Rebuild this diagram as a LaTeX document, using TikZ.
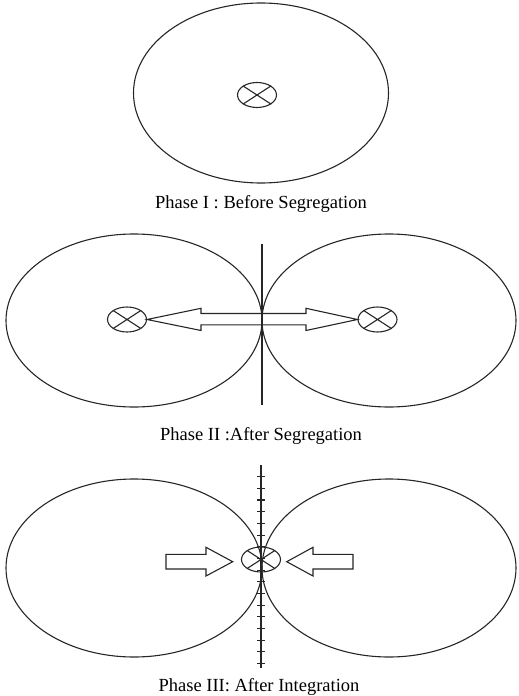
\documentclass[tikz,border=0pt]{standalone}
\usepackage{fontspec}
\setmainfont{Liberation Serif}
\usetikzlibrary{shapes.geometric}
\begin{document}
\begin{tikzpicture}[x=1pt,y=-1pt,
  big/.style={draw=black!85,line width=1.1pt},
  lobe/.style={draw=black!85,line width=1.1pt},
  center/.style={ellipse,draw=black!85,line width=1.1pt,minimum width=39pt,minimum height=25pt,inner sep=0pt},
  crossline/.style={draw=black!85,line width=1.1pt},
  caption/.style={anchor=base,inner sep=0pt,font=\fontsize{18.5}{22}\selectfont},
  axis/.style={draw=black!85,line width=1.4pt},
  fatarrow/.style={draw=black!85,line width=1.1pt,fill=white,line join=miter}]
\useasboundingbox (0,0) rectangle (519,696);
% ---------- Phase I ----------
\draw[big] (261,93) ellipse [x radius=127.5, y radius=90];
\node[center] (c1) at (257,95) {};
\draw[crossline] (c1.north west) -- (c1.south east) (c1.north east) -- (c1.south west);
\node[caption] (t1) at (261,208) {Phase I : Before Segregation};
% ---------- Phase II ----------
\draw[lobe] (134,320.5) ellipse [x radius=128, y radius=86.5];
\draw[lobe] (389,320.5) ellipse [x radius=127, y radius=86.5];
\coordinate (v2t) at (262,244);
\coordinate (v2b) at (262,405);
\node[center] (c2l) at (127,319.5) {};
\node[center] (c2r) at (377.5,319.5) {};
\draw[crossline] (c2l.north west) -- (c2l.south east) (c2l.north east) -- (c2l.south west);
\draw[crossline] (c2r.north west) -- (c2r.south east) (c2r.north east) -- (c2r.south west);
\draw[fatarrow,fill=none] (c2l.east) -- (201,308.3) -- (201,313.5) -- (306,313.5) -- (306,308.3)
  -- (c2r.west) -- (306,330.5) -- (306,324.8) -- (201,324.8) -- (201,330.5) -- cycle;
\draw[axis] (v2t) -- (v2b);
\node[caption] (t2) at (261,440) {Phase II :After Segregation};
% ---------- Phase III ----------
\draw[lobe] (134,568) ellipse [x radius=128, y radius=89];
\draw[lobe] (389,568) ellipse [x radius=127, y radius=89];
\coordinate (v3t) at (261,465);
\coordinate (v3b) at (261,668);
\draw[axis] (v3t) -- (v3b);
\foreach \k in {0,...,16}{
  \draw[line width=1.1pt,black!85] (257,476.7+11.67*\k) -- (265,476.7+11.67*\k);
}
\node[center] (c3) at (261,559.5) {};
\draw[crossline] (c3.north west) -- (c3.south east) (c3.north east) -- (c3.south west);
\coordinate (a3l) at (232.7,561.7);
\coordinate (a3r) at (286.7,561.7);
\draw[fatarrow] (166,554.3) -- (206,554.3) -- (206,547.3) -- (a3l) -- (206,576) -- (206,569) -- (166,569) -- cycle;
\draw[fatarrow] (353,554.3) -- (313,554.3) -- (313,547.3) -- (a3r) -- (313,576) -- (313,569) -- (353,569) -- cycle;
\node[caption] (t3) at (259,691) {Phase III: After Integration};
\end{tikzpicture}
\end{document}
